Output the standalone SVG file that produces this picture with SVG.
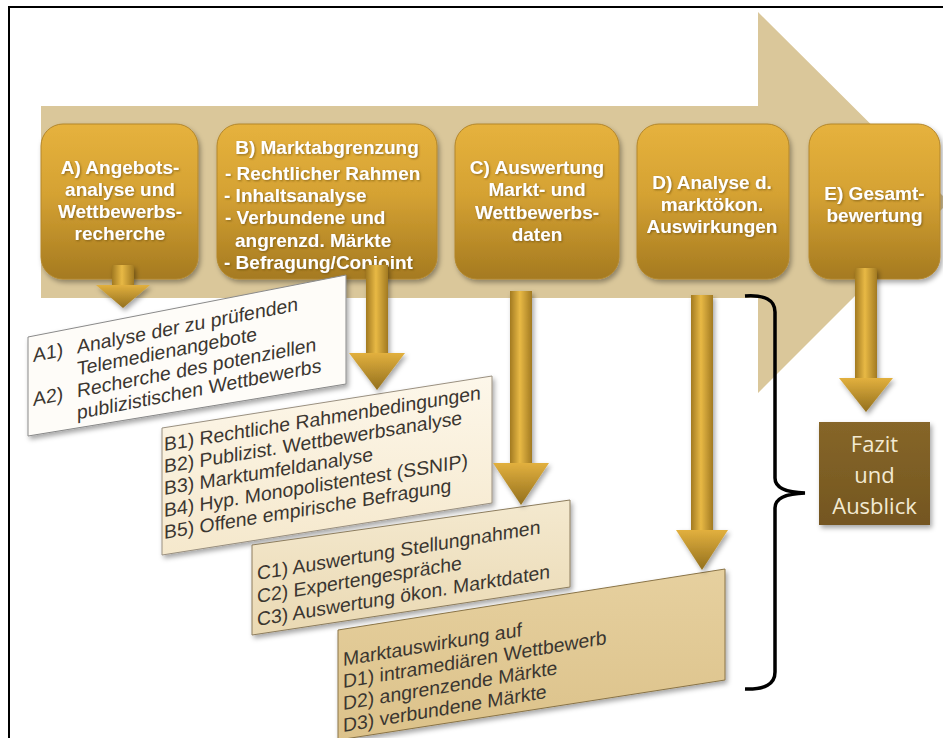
<svg xmlns="http://www.w3.org/2000/svg" width="943" height="738" viewBox="0 0 943 738">
<defs>
<linearGradient id="gold" x1="0" y1="0" x2="0" y2="1"><stop offset="0" stop-color="#e6b23d"/><stop offset="0.45" stop-color="#d5a233"/><stop offset="1" stop-color="#a57a20"/></linearGradient>
<linearGradient id="shaft" x1="0" y1="0" x2="1" y2="0"><stop offset="0" stop-color="#a27a22"/><stop offset="0.45" stop-color="#e8b945"/><stop offset="1" stop-color="#a27a22"/></linearGradient>
<linearGradient id="head" x1="0" y1="0" x2="0" y2="1"><stop offset="0" stop-color="#e2b03e"/><stop offset="1" stop-color="#93701e"/></linearGradient>
<linearGradient id="gB" x1="0" y1="0" x2="0" y2="1"><stop offset="0" stop-color="#fdf7ea"/><stop offset="1" stop-color="#f5e8cc"/></linearGradient>
<linearGradient id="gC" x1="0" y1="0" x2="0" y2="1"><stop offset="0" stop-color="#f4e9cf"/><stop offset="1" stop-color="#ead9b3"/></linearGradient>
<linearGradient id="gD" x1="0" y1="0" x2="0" y2="1"><stop offset="0" stop-color="#e6d09f"/><stop offset="1" stop-color="#dcc28a"/></linearGradient>
<linearGradient id="gF" x1="0" y1="0" x2="0" y2="1"><stop offset="0" stop-color="#866629"/><stop offset="1" stop-color="#745620"/></linearGradient>
<filter id="sh" x="-10%" y="-10%" width="125%" height="130%"><feDropShadow dx="2" dy="3" stdDeviation="2.5" flood-color="#000" flood-opacity="0.35"/></filter>
<filter id="ts" x="-5%" y="-20%" width="115%" height="150%"><feDropShadow dx="1" dy="1" stdDeviation="0.8" flood-color="#5a3f08" flood-opacity="0.6"/></filter>
</defs>
<style>
.box{fill:url(#gold);stroke:#b3862a;stroke-width:1;filter:url(#sh)}
.bt{font-family:"Liberation Sans",Arial,sans-serif;font-weight:bold;font-size:19px;fill:#ffffff;filter:url(#ts)}
.c{text-anchor:middle}
.dt{font-family:"Liberation Sans",Arial,sans-serif;font-size:19.4px;fill:#3b3630}
.ft{font-family:"Open Sans","Noto Sans",sans-serif;font-size:22px;fill:#f3ead2;text-anchor:middle}
.shaft{fill:url(#shaft)}
.head{fill:url(#head)}
.arr{filter:url(#sh)}
</style>
<rect width="943" height="738" fill="#ffffff"/>
<path d="M9 738 V7 H943" fill="none" stroke="#000" stroke-width="2"/>
<g id="flow-arrow"><polygon points="41,106 758,106 758,12 949,202 758,393 758,298 41,298" fill="#dac79a"/></g>

<g id="nodeA"><rect class="box" x="41" y="124" width="157" height="155" rx="22"/>
<text class="bt c" x="120" y="174">A) Angebots-</text><text class="bt c" x="120" y="196">analyse und</text><text class="bt c" x="120" y="218">Wettbewerbs-</text><text class="bt c" x="120" y="240">recherche</text></g>
<g id="nodeB"><rect class="box" x="217" y="124" width="220" height="155" rx="22"/>
<text class="bt c" x="327" y="154">B) Marktabgrenzung</text>
<text class="bt" x="225" y="180">- Rechtlicher Rahmen</text><text class="bt" x="224" y="202">- Inhaltsanalyse</text><text class="bt" x="225" y="224">- Verbundene und</text><text class="bt" x="235" y="247">angrenzd. Märkte</text><text class="bt" x="224" y="269">- Befragung/Conjoint</text></g>
<g id="nodeC"><rect class="box" x="455" y="124" width="164" height="155" rx="22"/>
<text class="bt c" x="537" y="174">C) Auswertung</text><text class="bt c" x="537" y="196">Markt- und</text><text class="bt c" x="537" y="219">Wettbewerbs-</text><text class="bt c" x="537" y="241">daten</text></g>
<g id="nodeD"><rect class="box" x="637" y="124" width="152" height="155" rx="22"/>
<text class="bt c" x="712" y="189">D) Analyse d.</text><text class="bt c" x="712" y="211">marktökon.</text><text class="bt c" x="712" y="233">Auswirkungen</text></g>
<g id="nodeE"><rect class="box" x="809" y="124" width="131" height="155" rx="22"/>
<text class="bt c" x="874.5" y="200">E) Gesamt-</text><text class="bt c" x="874.5" y="222">bewertung</text></g>

<g id="detailA"><polygon points="28,337 346,275 346,384 28,436" fill="#fefcf8" stroke="#8a8a8a" stroke-width="1" filter="url(#sh)"/>
<g transform="translate(33,362) skewY(-11)"><text class="dt" x="0" y="0">A1)</text><text class="dt" x="44" y="0">Analyse der zu prüfenden</text><text class="dt" x="44" y="22">Telemedienangebote</text><text class="dt" x="0" y="44">A2)</text><text class="dt" x="44" y="44">Recherche des potenziellen</text><text class="dt" x="44" y="66">publizistischen Wettbewerbs</text></g></g>
<g id="detailB"><polygon points="162,428 492,376 492,503 162,555" fill="url(#gB)" stroke="#9a9080" stroke-width="1" filter="url(#sh)"/>
<g transform="translate(164,451) skewY(-9.3)"><text class="dt" x="0" y="0">B1) Rechtliche Rahmenbedingungen</text><text class="dt" x="0" y="22">B2) Publizist. Wettbewerbsanalyse</text><text class="dt" x="0" y="44">B3) Marktumfeldanalyse</text><text class="dt" x="0" y="66">B4) Hyp. Monopolistentest (SSNIP)</text><text class="dt" x="0" y="88">B5) Offene empirische Befragung</text></g></g>
<g id="detailC"><polygon points="252,545 570,500 570,587 252,635" fill="url(#gC)" stroke="#8d7d5e" stroke-width="1" filter="url(#sh)"/>
<g transform="translate(257,580) skewY(-9.3)"><text class="dt" x="0" y="0">C1) Auswertung Stellungnahmen</text><text class="dt" x="0" y="23">C2) Expertengespräche</text><text class="dt" x="0" y="46">C3) Auswertung ökon. Marktdaten</text></g></g>
<g id="detailD"><polygon points="338,630 725,569 725,680 338,740" fill="url(#gD)" stroke="#8a7447" stroke-width="1" filter="url(#sh)"/>
<g transform="translate(343,666) skewY(-9.5)"><text class="dt" x="0" y="0">Marktauswirkung auf</text><text class="dt" x="0" y="22">D1) intramediären Wettbewerb</text><text class="dt" x="0" y="44">D2) angrenzende Märkte</text><text class="dt" x="0" y="66">D3) verbundene Märkte</text></g></g>
<g id="fazit"><rect x="819" y="422" width="111" height="103" fill="url(#gF)" filter="url(#sh)"/>
<text class="ft" x="874.5" y="452">Fazit</text><text class="ft" x="874.5" y="483">und</text><text class="ft" x="874.5" y="514">Ausblick</text></g>

<g id="connectors">
<g class="arr"><rect class="shaft" x="112" y="265" width="22" height="21"/><polygon class="head" points="96,285 150,285 123,308"/></g>
<g class="arr"><rect class="shaft" x="366" y="265" width="22" height="89"/><polygon class="head" points="349,353 405,353 377,390"/></g>
<g class="arr"><rect class="shaft" x="510" y="291" width="22" height="173"/><polygon class="head" points="493,463 549,463 521,505"/></g>
<g class="arr"><rect class="shaft" x="691" y="295" width="22" height="236"/><polygon class="head" points="676,530 728,530 702,570"/></g>
<g class="arr"><rect class="shaft" x="855" y="268" width="22" height="111"/><polygon class="head" points="839,378 893,378 866,412"/></g>
<path d="M745 296 Q775 294 775 312 L775 478 Q775 492 805 493 Q775 494 775 508 L775 672 Q775 690 745 689" fill="none" stroke="#000" stroke-width="3.5"/>
</g>
</svg>
